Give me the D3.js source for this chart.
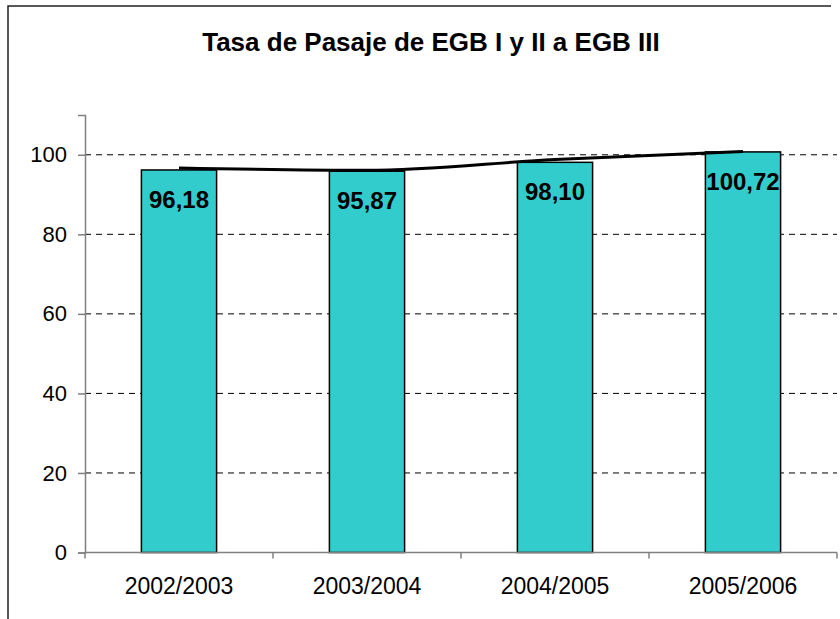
<!DOCTYPE html>
<html>
<head>
<meta charset="utf-8">
<script src="https://cdn.jsdelivr.net/npm/d3@7"></script>
<style>
  html, body { margin: 0; padding: 0; background: #fff; }
  svg { display: block; font-family: "Liberation Sans", Arial, sans-serif; }
</style>
</head>
<body>
<svg id="chart" width="840" height="619"></svg>
<script>
// data
var categories = ['2002/2003', '2003/2004', '2004/2005', '2005/2006'];
var tasa = [96.18, 95.87, 98.10, 100.72];
var tendencia = [96.7, 96.1, 98.8, 100.8];
var yTicks = [0, 20, 40, 60, 80, 100];

var svg = d3.select('#chart'),
    cs = {
        left: 85, right: 837, top: 115, bottom: 552.5,
        bar: { fill: '#33cccc', stroke: '#000' },
        axisColor: '#808080'
    };

// frame (only top and left edge show in the picture)
svg.append('path')
    .attr('d', 'M8,619 V6 H831')
    .attr('fill', 'none')
    .attr('stroke', '#222')
    .attr('stroke-width', 1.5);

svg.append('text')
    .attr('x', 431)
    .attr('y', 51)
    .attr('text-anchor', 'middle')
    .attr('font-size', 26)
    .attr('font-weight', 'bold')
    .text('Tasa de Pasaje de EGB I y II a EGB III');

var x = d3.scaleBand()
    .domain(categories)
    .range([cs.left, cs.right])
    .paddingInner(0.6)
    .paddingOuter(0.3);

var y = d3.scaleLinear()
    .domain([0, 110])
    .range([cs.bottom, cs.top]);

// dashed grid
svg.append('g')
    .selectAll('line')
    .data(yTicks.filter(d => d > 0))
    .enter()
    .append('line')
    .attr('x1', cs.left).attr('x2', cs.right)
    .attr('y1', d => y(d)).attr('y2', d => y(d))
    .attr('stroke', '#000')
    .attr('stroke-width', 1)
    .attr('stroke-dasharray', '6,5');

// bars
svg.append('g')
    .selectAll('rect')
    .data(tasa)
    .enter()
    .append('rect')
    .attr('x', (d, i) => x(categories[i]))
    .attr('y', d => y(d))
    .attr('width', x.bandwidth())
    .attr('height', d => y(0) - y(d))
    .attr('fill', cs.bar.fill)
    .attr('stroke', cs.bar.stroke)
    .attr('stroke-width', 1.5);

// y axis
var yAxis = d3.axisLeft(y).tickValues(yTicks).tickSize(7).tickPadding(11).tickFormat(d3.format('d'));
var gy = svg.append('g')
    .attr('transform', 'translate(' + cs.left + ',0)')
    .call(yAxis);
gy.select('.domain').attr('stroke', cs.axisColor).attr('stroke-width', 1.5);
gy.selectAll('.tick line').attr('stroke', cs.axisColor).attr('stroke-width', 1.5);
gy.selectAll('.tick text')
    .attr('font-size', 22)
    .attr('font-family', '"Liberation Sans", Arial, sans-serif')
    .attr('fill', '#000');

// x axis: ticks sit between the categories
var xEdges = d3.scaleLinear().domain([0, categories.length]).range([cs.left, cs.right]);
var gx = svg.append('g')
    .attr('transform', 'translate(0,' + cs.bottom + ')');
gx.append('line')
    .attr('x1', cs.left).attr('x2', cs.right)
    .attr('stroke', cs.axisColor).attr('stroke-width', 1.5);
gx.selectAll('.xt')
    .data(d3.range(categories.length + 1))
    .enter()
    .append('line')
    .attr('class', 'xt')
    .attr('x1', d => xEdges(d)).attr('x2', d => xEdges(d))
    .attr('y1', 0).attr('y2', 6)
    .attr('stroke', cs.axisColor).attr('stroke-width', 1.5);
gx.selectAll('.xl')
    .data(categories)
    .enter()
    .append('text')
    .attr('class', 'xl')
    .attr('x', d => x(d) + x.bandwidth() / 2)
    .attr('y', 41)
    .attr('text-anchor', 'middle')
    .attr('font-size', 23)
    .text(d => d);

// trend line
var line = d3.line()
    .x((d, i) => x(categories[i]) + x.bandwidth() / 2)
    .y(d => y(d))
    .curve(d3.curveMonotoneX);
svg.append('path')
    .datum(tendencia)
    .attr('d', line)
    .attr('fill', 'none')
    .attr('stroke', '#000')
    .attr('stroke-width', 3);

// value labels
svg.append('g')
    .selectAll('text')
    .data(tasa)
    .enter()
    .append('text')
    .attr('x', (d, i) => x(categories[i]) + x.bandwidth() / 2)
    .attr('y', d => y(d) + 38)
    .attr('text-anchor', 'middle')
    .attr('font-size', 24)
    .attr('font-weight', 'bold')
    .text(d => d3.format('.2f')(d).replace('.', ','));
</script>
</body>
</html>
